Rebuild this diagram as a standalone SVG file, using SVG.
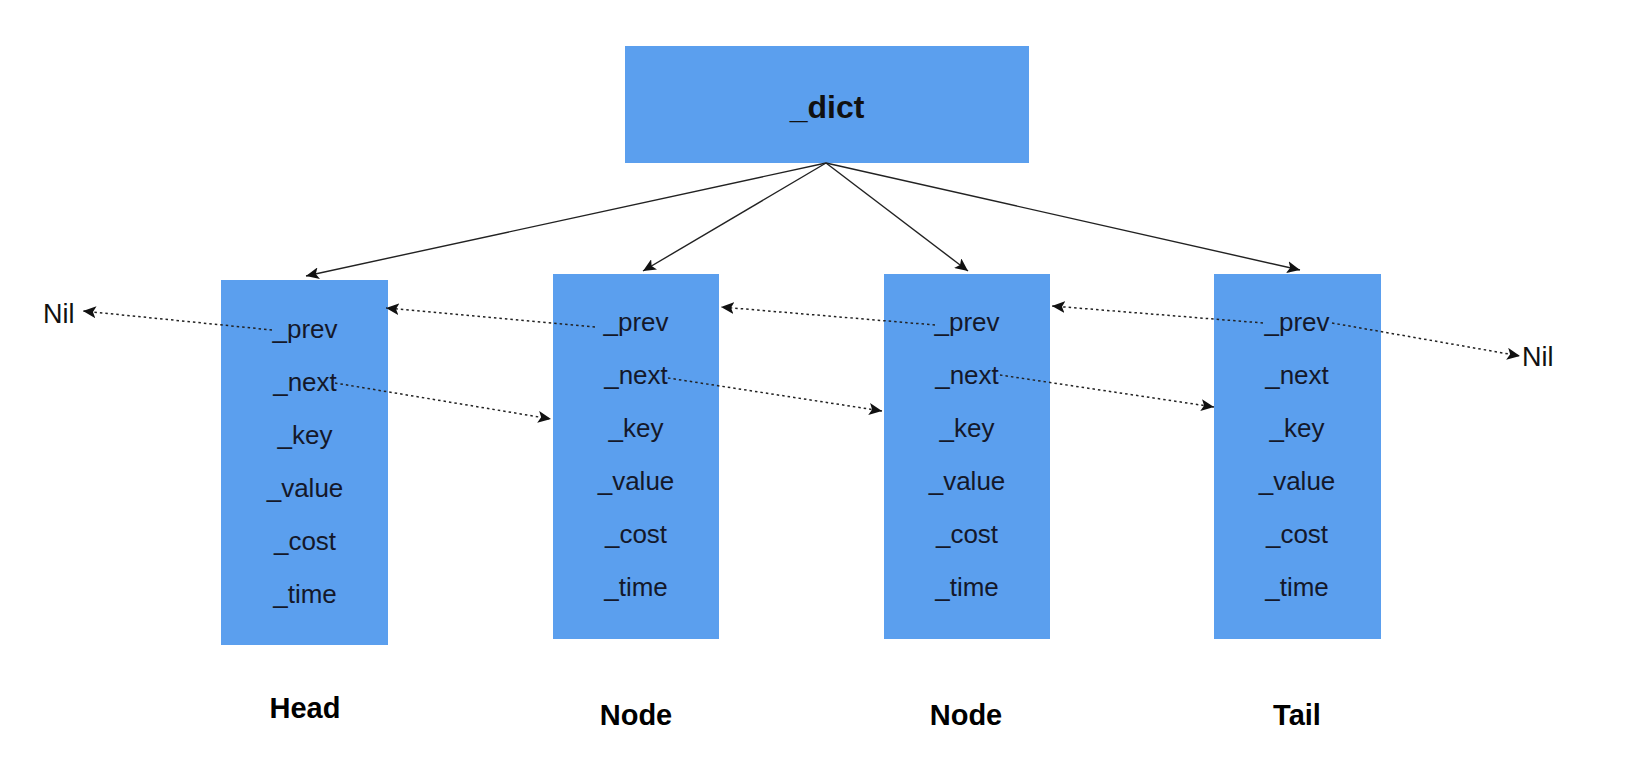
<svg xmlns="http://www.w3.org/2000/svg" width="1630" height="762" viewBox="0 0 1630 762">
<style>
.box{fill:#5B9FEE;}
.fld{font-family:"Liberation Sans",Arial,sans-serif;font-size:26px;fill:#14182a;text-anchor:middle;}
.lbl{font-family:"Liberation Sans",Arial,sans-serif;font-size:29px;font-weight:bold;fill:#000;text-anchor:middle;}
.nil{font-family:"Liberation Sans",Arial,sans-serif;font-size:27px;fill:#111;}
.solid{stroke:#222;stroke-width:1.4;fill:none;marker-end:url(#ah);}
.dot{stroke:#222;stroke-width:1.5;fill:none;stroke-dasharray:2.5 3;marker-end:url(#ah);}
</style>
<defs>
<marker id="ah" markerUnits="userSpaceOnUse" markerWidth="14" markerHeight="12" viewBox="0 0 14 12" refX="13" refY="6" orient="auto">
<path d="M0,0 L13,6 L0,12 L3,6 z" fill="#111"/>
</marker>
</defs>
<rect width="1630" height="762" fill="#ffffff"/>

<g id="dict">
<rect class="box" x="625" y="46" width="404" height="117"/>
<text x="827" y="118" font-family="Liberation Sans, Arial, sans-serif" font-size="32" font-weight="bold" fill="#111" text-anchor="middle">_dict</text>
</g>

<g id="head">
<rect class="box" x="221" y="280" width="167" height="365"/>
<text class="fld" x="305" y="338">_prev</text>
<text class="fld" x="305" y="391">_next</text>
<text class="fld" x="305" y="444">_key</text>
<text class="fld" x="305" y="497">_value</text>
<text class="fld" x="305" y="550">_cost</text>
<text class="fld" x="305" y="603">_time</text>
<text class="lbl" x="305" y="718">Head</text>
</g>

<g id="node1">
<rect class="box" x="553" y="274" width="166" height="365"/>
<text class="fld" x="636" y="331">_prev</text>
<text class="fld" x="636" y="384">_next</text>
<text class="fld" x="636" y="437">_key</text>
<text class="fld" x="636" y="490">_value</text>
<text class="fld" x="636" y="543">_cost</text>
<text class="fld" x="636" y="596">_time</text>
<text class="lbl" x="636" y="725">Node</text>
</g>

<g id="node2">
<rect class="box" x="884" y="274" width="166" height="365"/>
<text class="fld" x="967" y="331">_prev</text>
<text class="fld" x="967" y="384">_next</text>
<text class="fld" x="967" y="437">_key</text>
<text class="fld" x="967" y="490">_value</text>
<text class="fld" x="967" y="543">_cost</text>
<text class="fld" x="967" y="596">_time</text>
<text class="lbl" x="966" y="725">Node</text>
</g>

<g id="tail">
<rect class="box" x="1214" y="274" width="167" height="365"/>
<text class="fld" x="1297" y="331">_prev</text>
<text class="fld" x="1297" y="384">_next</text>
<text class="fld" x="1297" y="437">_key</text>
<text class="fld" x="1297" y="490">_value</text>
<text class="fld" x="1297" y="543">_cost</text>
<text class="fld" x="1297" y="596">_time</text>
<text class="lbl" x="1297" y="725">Tail</text>
</g>

<g id="nil-left"><text class="nil" x="43" y="323">Nil</text></g>
<g id="nil-right"><text class="nil" x="1522" y="366">Nil</text></g>

<g id="connectors">
<line class="solid" x1="826" y1="163" x2="306" y2="276"/>
<line class="solid" x1="826" y1="163" x2="643" y2="271"/>
<line class="solid" x1="826" y1="163" x2="968" y2="271"/>
<line class="solid" x1="826" y1="163" x2="1300" y2="270"/>

<line class="dot" x1="272" y1="330" x2="83" y2="311"/>
<line class="dot" x1="595" y1="327" x2="386" y2="308"/>
<line class="dot" x1="935" y1="325" x2="721" y2="307"/>
<line class="dot" x1="1263" y1="323" x2="1052" y2="306"/>
<line class="dot" x1="1332" y1="323" x2="1520" y2="356"/>

<line class="dot" x1="335" y1="383" x2="551" y2="419"/>
<line class="dot" x1="668" y1="378" x2="882" y2="411"/>
<line class="dot" x1="1000" y1="375" x2="1214" y2="407"/>
</g>
</svg>
